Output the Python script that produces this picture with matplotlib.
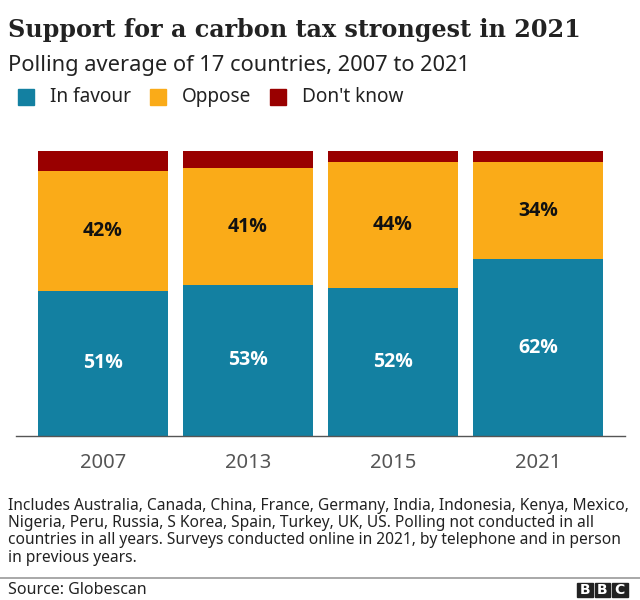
import matplotlib.pyplot as plt
from matplotlib.patches import Rectangle

years = ['2007', '2013', '2015', '2021']
in_favour = [51, 53, 52, 62]
oppose = [42, 41, 44, 34]
dont_know = [7, 6, 4, 4]

series_names = ['In favour', 'Oppose', "Don't know"]
colors = ['#1380A1', '#FAAB18', '#990000']

plt.rcParams['font.family'] = ['Noto Sans', 'DejaVu Sans']

W, H = 640, 600
fig = plt.figure(figsize=(6.4, 6.0), dpi=100)

def fx(px):
    return px / W

def fy(py):
    return 1 - py / H

ax = fig.add_axes([fx(16), fy(436), fx(625) - fx(16), fy(151) - fy(436)])

x = range(len(years))
w = 130 / 145
bottom = [0] * len(years)
for vals, col in zip([in_favour, oppose, dont_know], colors):
    ax.bar(x, vals, width=w, bottom=bottom, color=col, edgecolor='none')
    bottom = [b + v for b, v in zip(bottom, vals)]

for i in x:
    ax.text(i, in_favour[i] / 2, f'{in_favour[i]}%', ha='center', va='center',
            color='white', fontsize=14, fontweight='bold', family='Open Sans')
    ax.text(i, in_favour[i] + oppose[i] / 2, f'{oppose[i]}%', ha='center', va='center',
            color='#111111', fontsize=14, fontweight='bold', family='Open Sans')

ax.set_xlim(-0.6, 3.6)
ax.set_ylim(0, 100)
ax.set_yticks([])
ax.set_xticks(list(x))
ax.set_xticklabels(years, fontsize=14.5, color='#555555')
ax.tick_params(axis='x', length=0, pad=12)
for s in ['top', 'right', 'left']:
    ax.spines[s].set_visible(False)
ax.spines['bottom'].set_color('#555555')
ax.spines['bottom'].set_linewidth(1)

# titles
fig.text(fx(8), fy(30), 'Support for a carbon tax strongest in 2021',
         family='DejaVu Serif', fontweight='bold', fontsize=17.2, color='#222222',
         va='center', ha='left')
fig.text(fx(8), fy(65), 'Polling average of 17 countries, 2007 to 2021',
         fontsize=15.7, color='#222222', va='center', ha='left')

# legend
lx = [18, 150, 270]
for px, name, col in zip(lx, series_names, colors):
    fig.patches.append(Rectangle((fx(px), fy(105)), fx(16), fy(0) - fy(16),
                                 transform=fig.transFigure, color=col))
    fig.text(fx(px + 32), fy(97), name, fontsize=13.7, color='#222222',
             va='center', ha='left')

note = ('Includes Australia, Canada, China, France, Germany, India, Indonesia, Kenya, Mexico,\n'
        'Nigeria, Peru, Russia, S Korea, Spain, Turkey, UK, US. Polling not conducted in all\n'
        'countries in all years. Surveys conducted online in 2021, by telephone and in person\n'
        'in previous years.')
fig.text(fx(8), fy(498), note, fontsize=11.2, color='#222222', va='top', ha='left',
         linespacing=1.1)

fig.add_artist(plt.Line2D([fx(0), fx(640)], [fy(578), fy(578)], color='#999999', lw=1.2))
fig.text(fx(8), fy(590), 'Source: Globescan', fontsize=11.5, color='#222222',
         va='center', ha='left')

# BBC logo
for k, letter in enumerate('BBC'):
    x0 = 577 + k * 17.5
    fig.patches.append(Rectangle((fx(x0), fy(597)), fx(15.5), fy(0) - fy(14),
                                 transform=fig.transFigure, color='#222222'))
    fig.text(fx(x0 + 7.75), fy(590), letter, fontsize=10, color='white', fontweight='bold',
             family='DejaVu Sans', va='center', ha='center')

fig.savefig('out.png', dpi=100, facecolor='white')
